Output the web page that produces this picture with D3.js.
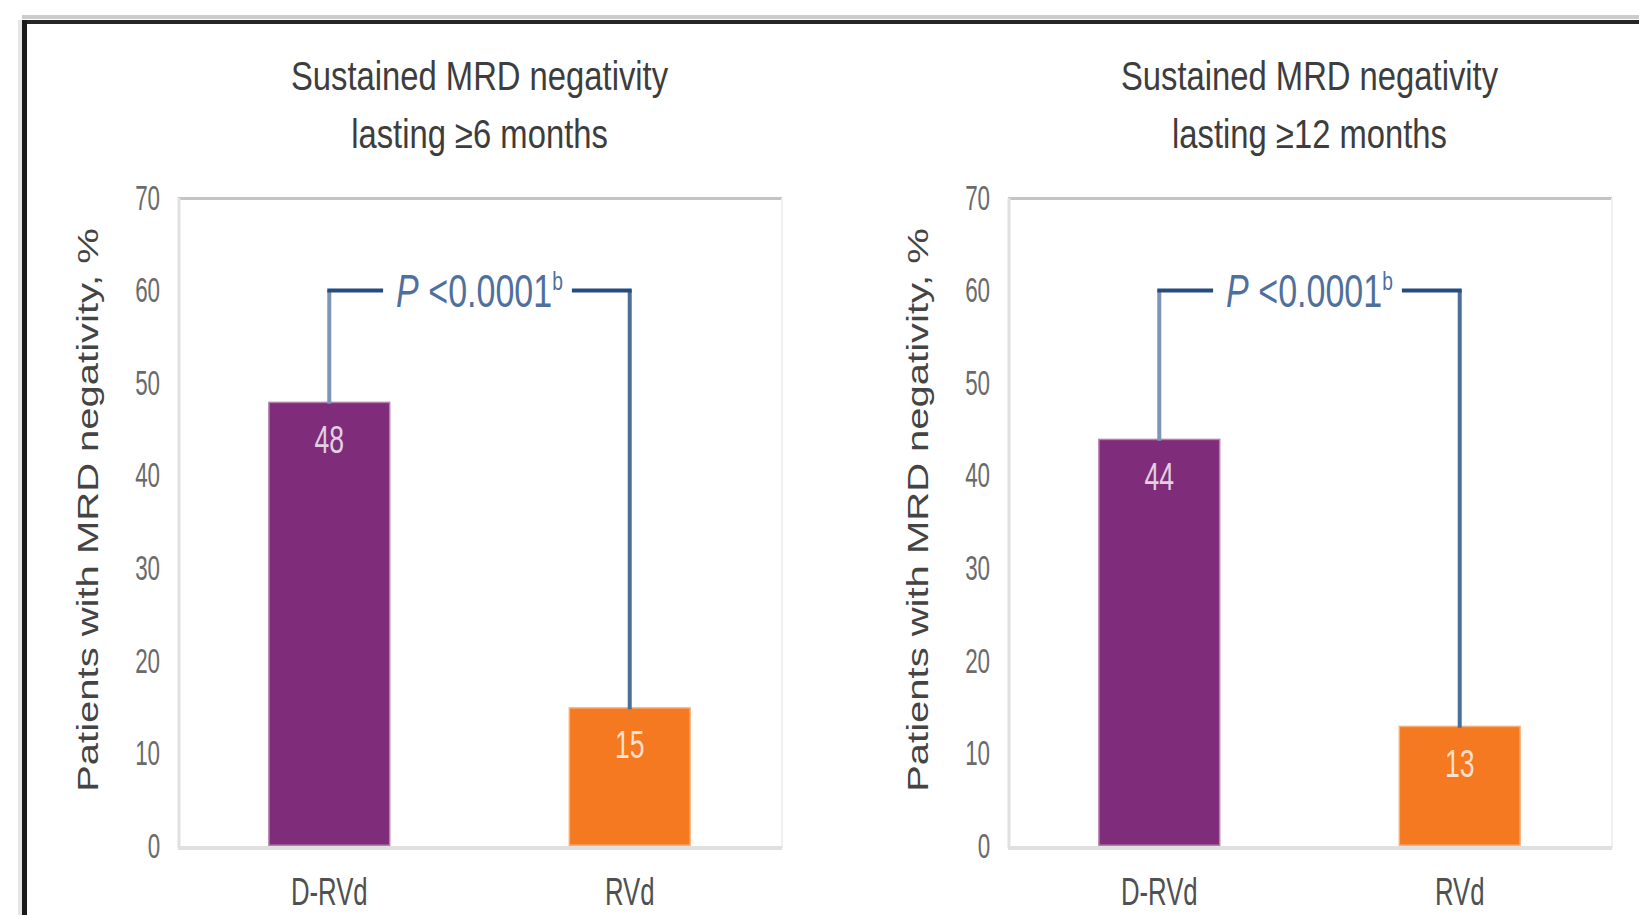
<!DOCTYPE html>
<html>
<head>
<meta charset="utf-8">
<script src="https://cdn.jsdelivr.net/npm/d3@7"></script>
<style>
  html, body { margin: 0; padding: 0; background: #ffffff; }
  svg { display: block; }
  text { font-family: "Liberation Sans", Arial, sans-serif; }
</style>
</head>
<body>
<svg id="chart" width="1639" height="915"></svg>
<script>
// ---- Data ----
const categories = ["D-RVd", "RVd"];
const panelTitles = [
  ["Sustained MRD negativity", "lasting \u22656 months"],
  ["Sustained MRD negativity", "lasting \u226512 months"]
];
const sixMonthValues = [48, 15];
const twelveMonthValues = [44, 13];
const panelValues = [sixMonthValues, twelveMonthValues];
const yTicks = [0, 10, 20, 30, 40, 50, 60, 70];
const yAxisTitle = "Patients with MRD negativity, %";
const pValueText = "P <0.0001";
const pValueNote = "b";
const bracketLevel = 60;

// ---- Layout ----
const W = 1639, H = 915;
const panelLeft = [178, 1008];
const plotW = 603;
const plotTop = 198, plotBottom = 846;
const barColors = ["#7f2c7a", "#f47920"];

const svg = d3.select("#chart");

// Outer frame (top and left rules)
svg.append("rect").attr("x", 22).attr("y", 15).attr("width", W - 22).attr("height", 4).attr("fill", "#cccccc");
svg.append("rect").attr("x", 18).attr("y", 20).attr("width", 4).attr("height", H - 20).attr("fill", "#e6e6e6");
svg.append("rect").attr("x", 22).attr("y", 20).attr("width", W - 22).attr("height", 4).attr("fill", "#262626");
svg.append("rect").attr("x", 22).attr("y", 20).attr("width", 5).attr("height", H - 20).attr("fill", "#1a1a1a");

const y = d3.scaleLinear().domain([0, 70]).range([plotBottom, plotTop]);
const x = d3.scaleBand().domain(categories).range([0, plotW]).paddingInner(0.593).paddingOuter(0.30);

// text with horizontal condensing around its anchor point
function condensed(parent, tx, ty, str, size, sx, anchor, fill) {
  return parent.append("text")
    .attr("transform", `translate(${tx},${ty}) scale(${sx},1)`)
    .attr("text-anchor", anchor)
    .attr("font-size", size)
    .attr("fill", fill)
    .text(str);
}

panelValues.forEach((values, p) => {
  const g = svg.append("g").attr("transform", `translate(${panelLeft[p]},0)`);
  const cx = plotW / 2;

  // Title
  condensed(g, cx, 90, panelTitles[p][0], 40, 0.82, "middle", "#3d3d3d");
  condensed(g, cx, 148, panelTitles[p][1], 40, 0.82, "middle", "#3d3d3d");

  // Plot frame
  g.append("line").attr("x1", 0).attr("x2", plotW + 1).attr("y1", plotTop + 0.5).attr("y2", plotTop + 0.5)
    .attr("stroke", "#c4c4c4").attr("stroke-width", 3);
  g.append("line").attr("x1", 1).attr("x2", 1).attr("y1", plotTop).attr("y2", plotBottom + 2)
    .attr("stroke", "#e0e0e0").attr("stroke-width", 3);
  g.append("line").attr("x1", plotW + 1).attr("x2", plotW + 1).attr("y1", plotTop).attr("y2", plotBottom + 2)
    .attr("stroke", "#f0f0f0").attr("stroke-width", 2);

  // Bars
  g.selectAll("rect.bar").data(values).join("rect")
    .attr("class", "bar")
    .attr("x", (d, i) => x(categories[i]))
    .attr("y", d => y(d))
    .attr("width", x.bandwidth())
    .attr("height", d => y(0) - y(d))
    .attr("fill", (d, i) => barColors[i])
    .attr("stroke", "rgba(255,255,255,0.4)")
    .attr("stroke-width", 3);

  // Baseline
  g.append("line").attr("x1", 0).attr("x2", plotW + 1).attr("y1", plotBottom + 2).attr("y2", plotBottom + 2)
    .attr("stroke", "#e0e0e0").attr("stroke-width", 4);

  // Value labels
  values.forEach((d, i) => {
    condensed(g, x(categories[i]) + x.bandwidth() / 2, y(d) + 51, String(d), 38, 0.7, "middle", "#ffffff")
      .attr("fill-opacity", 0.78);
  });

  // Y axis
  const ySx = 0.64;
  const yAxis = g.append("g").call(d3.axisLeft(y).tickValues(yTicks).tickSize(0).tickPadding(28));
  yAxis.select(".domain").remove();
  yAxis.selectAll("text")
    .attr("font-size", 35)
    .attr("font-family", "'Liberation Sans', Arial, sans-serif")
    .attr("fill", "#6a6a6a")
    .attr("transform", `scale(${ySx},1)`);

  // X axis (category labels)
  const xAxis = g.append("g").attr("transform", `translate(0,${plotBottom})`)
    .call(d3.axisBottom(x).tickSize(0).tickPadding(31));
  xAxis.select(".domain").remove();
  xAxis.selectAll("text")
    .attr("font-size", 39)
    .attr("font-family", "'Liberation Sans', Arial, sans-serif")
    .attr("fill", "#505050")
    .attr("transform", "scale(0.66,1)");

  // Y axis title
  g.append("text")
    .attr("transform", `translate(${98 - panelLeft[0]},${510}) rotate(-90) scale(1,0.74)`)
    .attr("text-anchor", "middle")
    .attr("font-size", 40)
    .attr("fill", "#444444")
    .text(yAxisTitle);

  // Significance bracket
  const c1 = x(categories[0]) + x.bandwidth() / 2;
  const c2 = x(categories[1]) + x.bandwidth() / 2;
  const by = y(bracketLevel);
  const mid = (c1 + c2) / 2;
  const pSx = 0.74;
  const pText = g.append("text")
    .attr("transform", `translate(${mid},${by + 16}) scale(${pSx},1)`)
    .attr("text-anchor", "middle")
    .attr("font-size", 46)
    .attr("fill", "#4f709d");
  pText.append("tspan").attr("font-style", "italic").text("P");
  pText.append("tspan").text(pValueText.slice(1));
  pText.append("tspan").attr("font-size", 26).attr("dy", -17).text(pValueNote);
  const bb = pText.node().getBBox();
  const tLeft = mid + bb.x * pSx;
  const tRight = mid + (bb.x + bb.width) * pSx;

  g.append("path")
    .attr("d", `M${c1},${y(values[0]) + 2}V${by}`)
    .attr("fill", "none").attr("stroke", "#7d96b8").attr("stroke-width", 4);
  g.append("path")
    .attr("d", `M${c2},${y(values[1]) + 2}V${by}`)
    .attr("fill", "none").attr("stroke", "#4d6d9b").attr("stroke-width", 4);
  g.append("path")
    .attr("d", `M${c1 - 2},${by}H${tLeft - 13}M${tRight + 9},${by}H${c2 + 2}`)
    .attr("fill", "none").attr("stroke", "#244c80").attr("stroke-width", 4);
});
</script>
</body>
</html>
